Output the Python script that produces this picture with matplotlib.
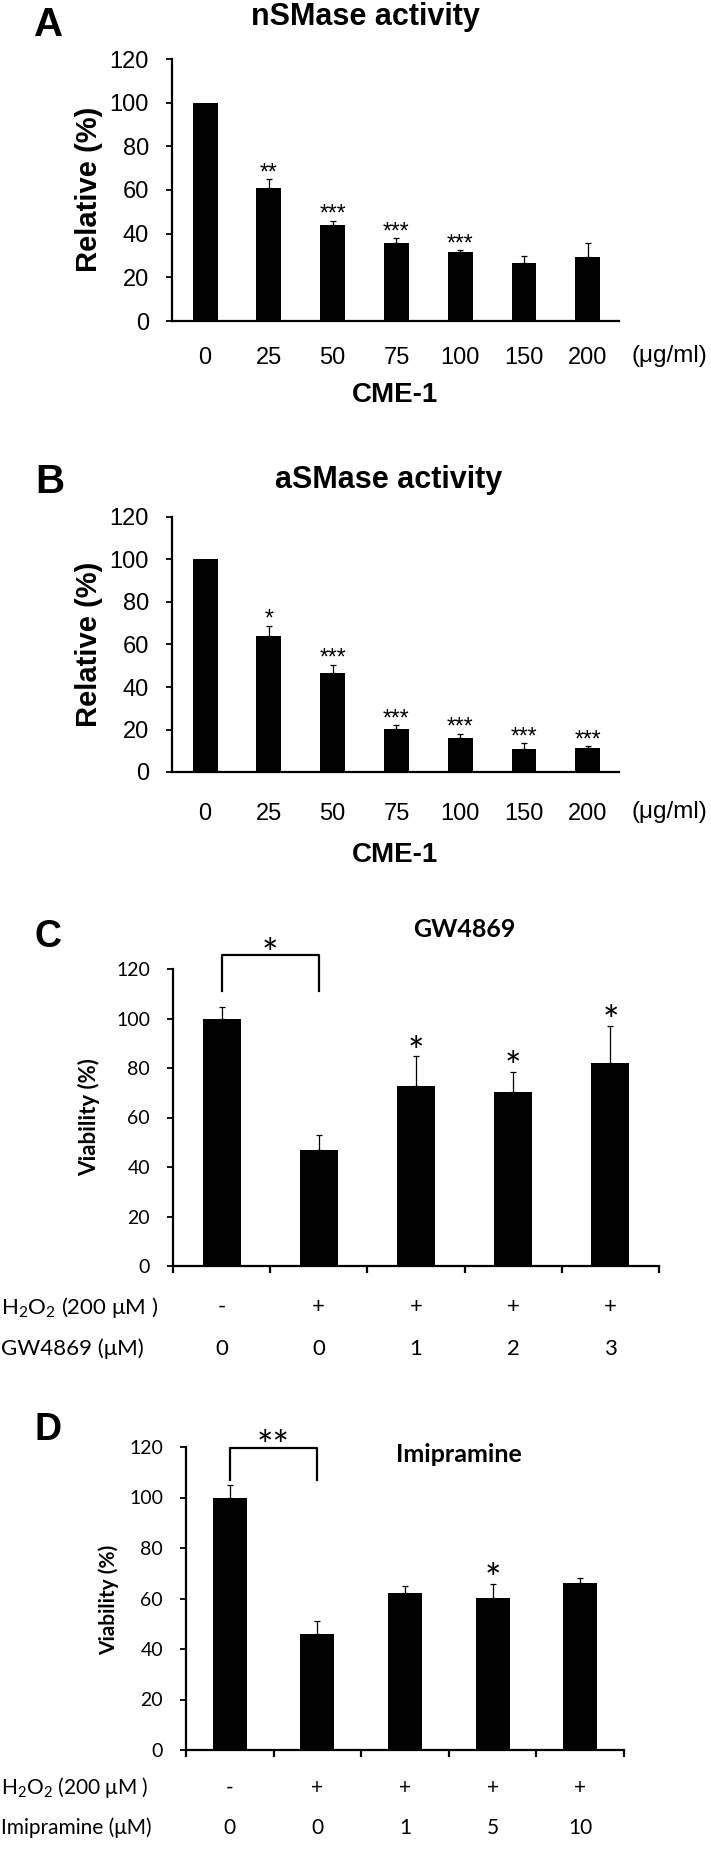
import matplotlib
matplotlib.use("Agg")
import matplotlib.pyplot as plt
import matplotlib.transforms as mtrans
import numpy as np

W, H = 711, 1855  # output size in pixels

# Panels A and B: SMase activity against CME-1 dose
cme_doses = ["0", "25", "50", "75", "100", "150", "200"]
nsmase_mean = [100, 61.1, 44.0, 35.5, 31.5, 26.6, 29.2]
nsmase_err = [0, 3.9, 1.9, 2.4, 0.8, 3.1, 6.4]
nsmase_sig = ["", "**", "***", "***", "***", "", ""]
asmase_mean = [100, 63.8, 46.7, 20.4, 16.2, 10.8, 11.5]
asmase_err = [0, 4.9, 3.8, 1.6, 1.8, 2.8, 0.7]
asmase_sig = ["", "*", "***", "***", "***", "***", "***"]

# Panels C and D: viability with inhibitors
h2o2_row = ["-", "+", "+", "+", "+"]
gw_doses = ["0", "0", "1", "2", "3"]
gw_mean = [100, 46.9, 72.7, 70.4, 82.2]
gw_err = [4.6, 6.2, 12.0, 8.1, 14.9]
gw_sig = ["", "", "*", "*", "*"]
imi_doses = ["0", "0", "1", "5", "10"]
imi_mean = [100, 45.8, 62.3, 60.2, 66.3]
imi_err = [4.9, 5.2, 2.8, 5.7, 1.7]
imi_sig = ["", "", "", "*", ""]

# bracket between control and H2O2: (x0, x1, leg bottom, top, label)
gw_bracket = (0, 1, 111, 125.7, "*")
imi_bracket = (0, 1, 107, 119.8, "**")

arial = "Liberation Sans"
calibri = "Lato"
plt.rcParams["mathtext.fontset"] = "custom"
plt.rcParams["mathtext.rm"] = calibri
plt.rcParams["mathtext.it"] = calibri

fig = plt.figure(figsize=(W / 100, H / 100), dpi=100)


def fx(px):
    return px / W


def fy(px):
    return 1 - px / H


def add_ax(left, top, right, bottom):
    return fig.add_axes([fx(left), fy(bottom), (right - left) / W, (bottom - top) / H])


def style_axes(ax, font, size):
    for s in ["top", "right"]:
        ax.spines[s].set_visible(False)
    for s in ["left", "bottom"]:
        ax.spines[s].set_linewidth(1.6)
    ax.set_ylim(0, 120)
    ax.set_yticks(np.arange(0, 121, 20))
    ax.tick_params(axis="y", direction="out", length=4.5, width=1.3, pad=12)
    for lab in ax.get_yticklabels():
        lab.set_fontfamily(font)
        lab.set_fontsize(size)


def bars_with_err(ax, means, errs, sig, font, star_size, star_off):
    x = np.arange(len(means))
    ax.bar(x, means, width=0.39, color="black", zorder=2)
    idx = [i for i in x if errs[i] > 0]
    ax.errorbar(x[idx], np.array(means)[idx],
                yerr=[np.zeros(len(idx)), np.array(errs)[idx]],
                fmt="none", ecolor="black", elinewidth=0.9, capsize=2.5,
                capthick=0.9, zorder=1)
    for i, s in enumerate(sig):
        if s:
            ax.annotate(s, (x[i], means[i] + errs[i]), xytext=(0, star_off),
                        textcoords="offset points", ha="center", va="baseline",
                        fontsize=star_size, family=font)
    return x


# ---------- A & B ----------
def dose_panel(box, means, errs, sig, letter, title, title_xy, letter_xy, ylab_xy,
               tick_y, cme_y):
    ax = add_ax(*box)
    x = bars_with_err(ax, means, errs, sig, arial, 16.5, 0)
    ax.set_xlim(-0.52, len(means) - 0.51)
    style_axes(ax, arial, 17)
    ax.set_xticks(x)
    ax.set_xticklabels([])
    ax.tick_params(axis="x", length=0)
    tr = mtrans.blended_transform_factory(ax.transData, fig.transFigure)
    for i, lab in enumerate(cme_doses):
        ax.text(x[i], fy(tick_y), lab, transform=tr, ha="center", va="center",
                fontsize=17, family=arial)
    fig.text(fx(letter_xy[0]), fy(letter_xy[1]), letter, fontsize=29, weight="bold",
             family=arial, ha="center", va="center")
    fig.text(fx(title_xy[0]), fy(title_xy[1]), title, fontsize=22, weight="bold",
             family=arial, ha="center", va="center")
    fig.text(fx(ylab_xy[0]), fy(ylab_xy[1]), "Relative (%)", fontsize=21,
             weight="bold", family=arial, rotation=90, ha="center", va="center")
    fig.text(fx(669), fy(tick_y - 2), "(μg/ml)", fontsize=17.5, family=arial,
             ha="center", va="center")
    fig.text(fx(395), fy(cme_y), "CME-1", fontsize=20, weight="bold",
             family=arial, ha="center", va="center")
    return ax


dose_panel((172, 59, 619, 321), nsmase_mean, nsmase_err, nsmase_sig, "A",
           "nSMase activity", (365, 17), (49, 25), (89, 189), 358, 395)
dose_panel((172, 517, 619, 772), asmase_mean, asmase_err, asmase_sig, "B",
           "aSMase activity", (389, 480), (50, 482), (89, 644), 814, 855)


# ---------- C & D ----------
def viab_panel(box, means, errs, sig, bracket, letter, letter_xy, title, title_xy,
               ylab_xy, ylab_size, drug_label, doses, row_y, row_size):
    ax = add_ax(*box)
    n = len(means)
    x = bars_with_err(ax, means, errs, sig, calibri, 28, -6)
    ax.set_xlim(-0.5, n - 0.5)
    style_axes(ax, calibri, 14)
    ax.set_xticks(np.arange(-0.5, n, 1))
    ax.set_xticklabels([])
    ax.tick_params(axis="x", direction="out", length=5, width=1.6)
    x0, x1, yb, yt, lab = bracket
    ax.plot([x0, x0, x1, x1], [yb, yt, yt, yb], color="black", lw=1.6,
            clip_on=False)
    ax.annotate(lab, ((x0 + x1) / 2, yt), xytext=(0, -8.5), textcoords="offset points",
                ha="center", va="baseline", fontsize=28, family=calibri,
                annotation_clip=False)
    fig.text(fx(letter_xy[0]), fy(letter_xy[1]), letter, fontsize=27, weight="bold",
             family=arial, ha="center", va="center")
    fig.text(fx(title_xy[0]), fy(title_xy[1]), title, fontsize=18, weight="bold",
             family=calibri, ha="center", va="center")
    fig.text(fx(ylab_xy[0]), fy(ylab_xy[1]), "Viability (%)", fontsize=ylab_size,
             weight="bold", family=calibri, rotation=90, ha="center", va="center")
    tr = mtrans.blended_transform_factory(ax.transData, fig.transFigure)
    for i in range(n):
        ax.text(x[i], fy(row_y[0]), h2o2_row[i], transform=tr, ha="center",
                va="center", fontsize=row_size, family=calibri)
        ax.text(x[i], fy(row_y[1]), doses[i], transform=tr, ha="center",
                va="center", fontsize=row_size, family=calibri)
    fig.text(fx(1), fy(row_y[0]), r"H$_2$O$_2$ (200 μM )", ha="left", va="center",
             fontsize=row_size, family=calibri)
    fig.text(fx(1), fy(row_y[1]), drug_label, ha="left", va="center",
             fontsize=row_size, family=calibri)
    return ax


viab_panel((173, 969, 659, 1266), gw_mean, gw_err, gw_sig, gw_bracket, "C",
           (48, 937), "GW4869", (464, 930), (89, 1117), 16, "GW4869 (μM)",
           gw_doses, (1307, 1349), 16)
viab_panel((186, 1447, 624, 1750), imi_mean, imi_err, imi_sig, imi_bracket, "D",
           (48, 1430), "Imipramine", (459, 1455), (109, 1600), 15,
           "Imipramine (μM)", imi_doses, (1788, 1828), 15)

fig.savefig("out.png", dpi=100)
